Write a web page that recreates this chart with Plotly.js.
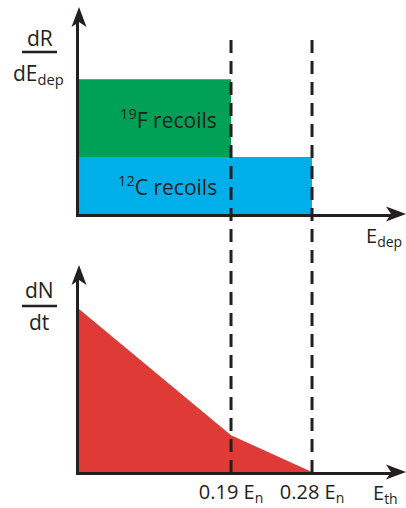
<!DOCTYPE html>
<html>
<head>
<meta charset="utf-8">
<script src="https://cdn.plot.ly/plotly-3.0.1.min.js"></script>
<style>html,body{margin:0;padding:0;background:#fff;}#chart{width:406px;height:508px;}</style>
</head>
<body>
<div id="chart"></div>
<script>
// ---- data (schematic) ----
const thresholds = [0.19, 0.28];                 // kinematic end points, fraction of E_n
const thresholdLabels = ['0.19 E<sub>n</sub>', '0.28 E<sub>n</sub>'];
const recoilNames = ['<sup>19</sup>F recoils', '<sup>12</sup>C recoils'];
const recoilEnds = [0.19, 0.28];                 // F recoils up to 0.19 E_n, C recoils up to 0.28 E_n
const recoilHeights = [0.38, 0.28];              // dR/dE_dep level of each species
const recoilBases = [0.28, 0];                   // F stacked on top of C
const recoilColors = ['#00a056', '#00aeea'];
const ethValues = [0, 0.19, 0.28];               // threshold energy E_th
const dNdtValues = [0.876, 0.18, 0];             // integrated rate dN/dt

const ink = '#231f20';
const font = 'Open Sans, sans-serif';
const W = 406, H = 508;
const px = v => v / W;
const py = v => 1 - v / H;

const traces = [];
recoilNames.forEach((n, i) => {
  traces.push({
    type: 'bar', x: [recoilEnds[i] / 2], y: [recoilHeights[i]], base: [recoilBases[i]],
    width: [recoilEnds[i]], marker: {color: recoilColors[i], line: {width: 0}},
    xaxis: 'x', yaxis: 'y', hoverinfo: 'skip', name: n
  });
});
traces.push({
  type: 'scatter', mode: 'lines', x: ethValues, y: dNdtValues, fill: 'tozeroy',
  fillcolor: '#df3a35', line: {width: 0, color: '#df3a35'}, xaxis: 'x2', yaxis: 'y2',
  hoverinfo: 'skip', name: 'dN/dt'
});

const xRange = [0.0211, 0.3733];
const axBase = {
  range: xRange, showgrid: false, zeroline: false, showline: true,
  linecolor: ink, linewidth: 2.5, ticks: '', fixedrange: true
};
const lab = (x, y, text, size) => ({
  xref: 'paper', yref: 'paper', x: px(x), y: py(y), xanchor: 'center', yanchor: 'middle',
  text: text, showarrow: false, font: {size: size || 21, color: ink, family: font}
});
// notched arrow heads drawn as paper-space path shapes (pixel points converted)
const pathOf = pts => 'M ' + pts.map(p => px(p[0]) + ' ' + py(p[1])).join(' L ') + ' Z';
const upHead = (x, y) => ({type: 'path', xref: 'paper', yref: 'paper', fillcolor: ink, line: {width: 0},
  path: pathOf([[x, y], [x + 7.5, y + 20], [x, y + 15], [x - 7.5, y + 20]])});
const rightHead = (x, y) => ({type: 'path', xref: 'paper', yref: 'paper', fillcolor: ink, line: {width: 0},
  path: pathOf([[x, y], [x - 20, y - 7.5], [x - 15, y], [x - 20, y + 7.5]])});
const layout = {
  width: W, height: H, margin: {l: 0, r: 0, t: 0, b: 0, pad: 0},
  paper_bgcolor: '#fff', plot_bgcolor: 'rgba(0,0,0,0)', showlegend: false,
  barmode: 'overlay', font: {family: font, color: ink},
  xaxis: Object.assign({}, axBase, {domain: [px(79), px(396)], anchor: 'y', showticklabels: false}),
  yaxis: Object.assign({}, axBase, {domain: [py(214), py(20)], range: [0, (214 - 20) / 204], anchor: 'x', showticklabels: false}),
  xaxis2: Object.assign({}, axBase, {domain: [px(79), px(396)], anchor: 'y2', tickvals: thresholds,
    ticktext: thresholdLabels, tickfont: {size: 20, family: font, color: ink}, showticklabels: true}),
  yaxis2: Object.assign({}, axBase, {domain: [py(472), py(278)], range: [0, (472 - 278) / 204], anchor: 'x2', showticklabels: false}),
  shapes: thresholds.map(t => ({
    type: 'line', xref: 'x', yref: 'paper', x0: t, x1: t, y0: py(40), y1: py(472),
    line: {color: ink, width: 3, dash: '13px,8px'}, layer: 'above'
  })).concat([
    {type: 'line', xref: 'paper', yref: 'paper', x0: px(22), x1: px(57), y0: py(52), y1: py(52), line: {color: ink, width: 2.5}},
    {type: 'line', xref: 'paper', yref: 'paper', x0: px(22), x1: px(57), y0: py(306), y1: py(306), line: {color: ink, width: 2.5}},
    upHead(79, 7), upHead(79, 265), rightHead(406, 214), rightHead(406, 472)
  ]),
  annotations: [
    lab(40, 38, 'dR'), lab(38, 74, 'dE<sub>dep</sub>'),
    lab(39, 290, 'dN'), lab(39, 322, 'dt'),
    lab(384, 236, 'E<sub>dep</sub>', 20), lab(385, 493, 'E<sub>th</sub>', 20)
  ].concat(recoilNames.map((n, i) => ({
    xref: 'x', yref: 'y', x: recoilEnds[0], y: recoilBases[i] + recoilHeights[i] / 2,
    xanchor: 'right', yanchor: 'middle', xshift: -12, text: n, showarrow: false,
    font: {size: 21, color: ink, family: font}
  })))
};

Plotly.newPlot('chart', traces, layout, {displayModeBar: false});
</script>
</body>
</html>
